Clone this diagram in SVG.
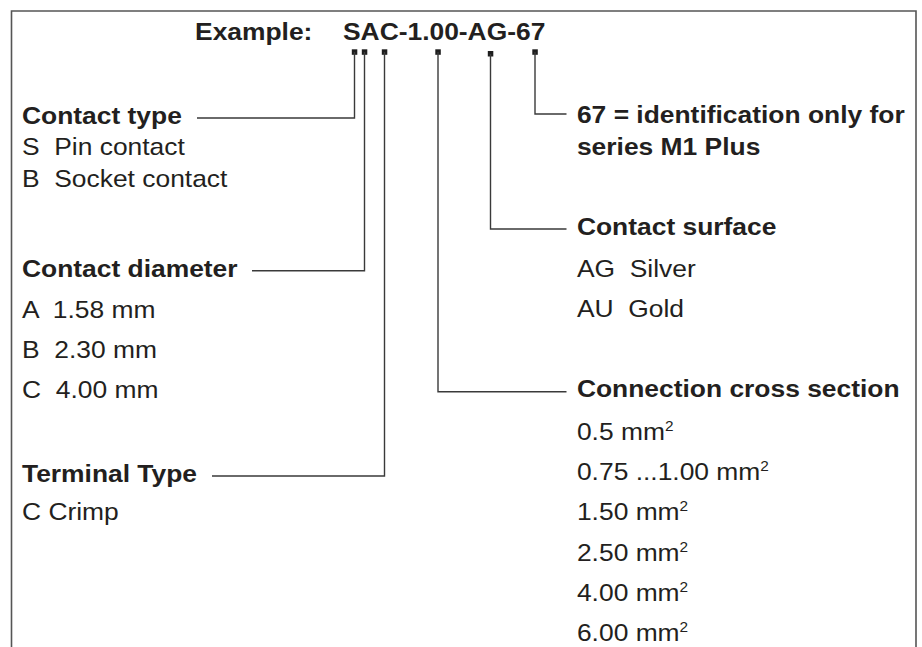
<svg xmlns="http://www.w3.org/2000/svg" width="922" height="647" viewBox="0 0 922 647">
<style>
.t{font-family:"Liberation Sans",Arial,Helvetica,sans-serif;font-size:24px;fill:#231f20}
.b{font-weight:bold}
.ln{fill:none;stroke:#3a3a3a;stroke-width:1.4}
.fr{fill:none;stroke:#555;stroke-width:1.6}
.mk{fill:#1e1e1e}
.sup{font-size:14px}
</style>
<rect width="922" height="647" fill="#fff"/>
<path class="fr" d="M11.5,647 V11 H916 V647"/>
<g id="connectors">
<rect class="mk" x="351.8" y="49.3" width="5.5" height="5.5"/>
<rect class="mk" x="361.8" y="49.3" width="5.5" height="5.5"/>
<rect class="mk" x="381.8" y="49.3" width="5.5" height="5.5"/>
<rect class="mk" x="435.3" y="49.3" width="5.5" height="5.5"/>
<rect class="mk" x="487.8" y="51" width="5.5" height="5.5"/>
<rect class="mk" x="532.3" y="49.3" width="5.5" height="5.5"/>
<path class="ln" d="M354.5,52 V118 H197"/>
<path class="ln" d="M364.5,52 V270.7 H252"/>
<path class="ln" d="M384.5,52 V476 H212"/>
<path class="ln" d="M438,52 V391.7 H566.5"/>
<path class="ln" d="M490.5,54 V229 H566.5"/>
<path class="ln" d="M535,52 V114 H566.5"/>
</g>
<g transform="scale(1.1 1)">
<g id="header"><text class="t b" x="177.3" y="40">Example:</text><text class="t b" x="311.8" y="40">SAC-1.00-AG-67</text></g>
<g id="contact-type">
<text class="t b" x="20" y="124">Contact type</text>
<text class="t" x="20" y="155" xml:space="preserve">S  Pin contact</text>
<text class="t" x="20" y="187" xml:space="preserve">B  Socket contact</text>
</g>
<g id="contact-diameter">
<text class="t b" x="20" y="277">Contact diameter</text>
<text class="t" x="20" y="318" xml:space="preserve">A  1.58 mm</text>
<text class="t" x="20" y="358" xml:space="preserve">B  2.30 mm</text>
<text class="t" x="20" y="398" xml:space="preserve">C  4.00 mm</text>
</g>
<g id="terminal-type">
<text class="t b" x="20" y="482">Terminal Type</text>
<text class="t" x="20" y="520">C Crimp</text>
</g>
<g id="identification">
<text class="t b" x="524.5" y="123">67 = identification only for</text>
<text class="t b" x="524.5" y="155">series M1 Plus</text>
</g>
<g id="contact-surface">
<text class="t b" x="524.5" y="235.5">Contact surface</text>
<text class="t" x="524.5" y="277" xml:space="preserve">AG  Silver</text>
<text class="t" x="524.5" y="317" xml:space="preserve">AU  Gold</text>
</g>
<g id="connection-cross-section">
<text class="t b" x="524.5" y="397.5">Connection cross section</text>
<text class="t" x="524.5" y="440">0.5 mm<tspan class="sup" dy="-9">2</tspan></text>
<text class="t" x="524.5" y="480.5">0.75 ...1.00 mm<tspan class="sup" dy="-9">2</tspan></text>
<text class="t" x="524.5" y="520.5">1.50 mm<tspan class="sup" dy="-9">2</tspan></text>
<text class="t" x="524.5" y="561">2.50 mm<tspan class="sup" dy="-9">2</tspan></text>
<text class="t" x="524.5" y="601.5">4.00 mm<tspan class="sup" dy="-9">2</tspan></text>
<text class="t" x="524.5" y="641.5">6.00 mm<tspan class="sup" dy="-9">2</tspan></text>
</g>
</g>
</svg>
